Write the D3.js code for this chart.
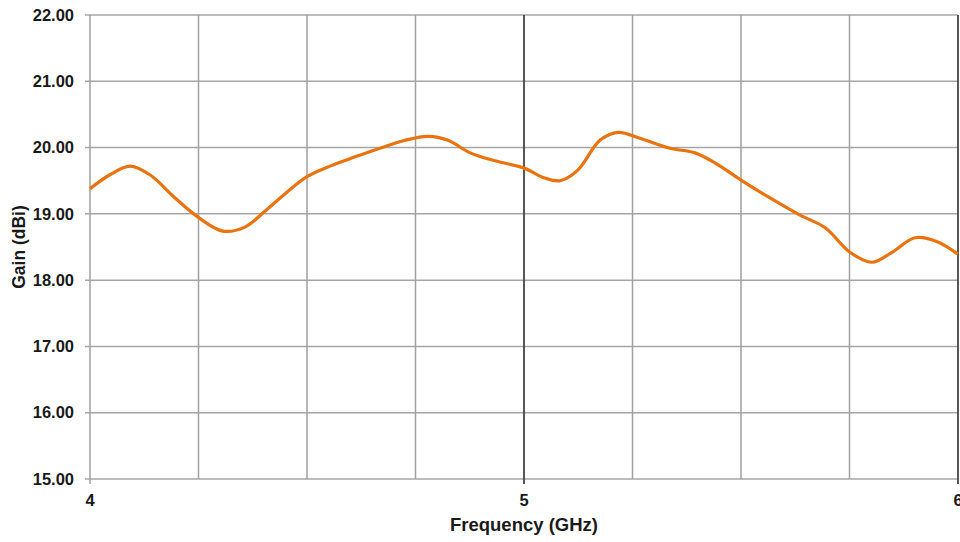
<!DOCTYPE html>
<html><head><meta charset="utf-8">
<script src="https://cdn.jsdelivr.net/npm/d3@7"></script>
<style>body{margin:0;background:#fff}svg{display:block}text{font-family:"Liberation Sans",Arial,sans-serif;font-weight:bold;fill:#1a1a1a}</style>
</head><body><svg id="c" width="960" height="542"></svg>
<script>
const freq = [4.000,4.046,4.092,4.138,4.196,4.249,4.306,4.357,4.403,4.449,4.500,4.553,4.611,4.668,4.726,4.779,4.825,4.876,4.933,5.000,5.048,5.083,5.124,5.175,5.217,5.267,5.336,5.394,5.440,5.500,5.567,5.636,5.694,5.751,5.802,5.848,5.901,5.952,6.000];
const gain = [19.38,19.59,19.72,19.59,19.24,18.95,18.74,18.80,19.04,19.30,19.56,19.72,19.86,19.99,20.11,20.17,20.11,19.92,19.80,19.69,19.54,19.50,19.66,20.11,20.23,20.14,19.99,19.92,19.77,19.51,19.24,18.98,18.79,18.42,18.27,18.42,18.64,18.58,18.39];
const yTicks = [15,16,17,18,19,20,21,22];
const xGrid = [4,4.25,4.5,4.75,5,5.25,5.5,5.75,6];
const xLabels = [4,5,6];

const svg = d3.select("#c");
const m = {l:90, r:2, t:15, b:63};
const W = 960, H = 542;
const x = d3.scaleLinear().domain([4,6]).range([m.l, W-m.r]);
const y = d3.scaleLinear().domain([15,22]).range([H-m.b, m.t]);

const g = svg.append("g");
g.selectAll(".hg").data(yTicks).join("line")
  .attr("x1", m.l-5).attr("x2", W-m.r)
  .attr("y1", d=>y(d)).attr("y2", d=>y(d))
  .attr("stroke", "#a6a6a6").attr("stroke-width", 1.5);
g.selectAll(".vg").data(xGrid).join("line")
  .attr("x1", d=>x(d)).attr("x2", d=>x(d))
  .attr("y1", m.t).attr("y2", d=> (d===4||d===5||d===6) ? y(15)+5 : y(15))
  .attr("stroke", d=> (d===5||d===6) ? "#444" : "#a0a0a0")
  .attr("stroke-width", d=> (d===5||d===6) ? 1.8 : 1.5);

svg.selectAll(".yl").data(yTicks).join("text")
  .attr("x", 74).attr("y", d=>y(d)).attr("dy","0.35em")
  .attr("text-anchor","end").style("font-size","16.5px")
  .text(d=>d.toFixed(2));
svg.selectAll(".xl").data(xLabels).join("text")
  .attr("x", d=>x(d)).attr("y", 500).attr("dy","0.35em")
  .attr("text-anchor","middle").style("font-size","16.5px")
  .text(d=>d);

svg.append("text").attr("x", 524).attr("y", 531)
  .attr("text-anchor","middle").style("font-size","18.5px").text("Frequency (GHz)");
svg.append("text").attr("transform","translate(25,247) rotate(-90)")
  .attr("text-anchor","middle").style("font-size","17.5px").text("Gain (dBi)");

const pts = freq.map((f,i)=>[f,gain[i]]);
svg.append("path").datum(pts)
  .attr("fill","none").attr("stroke","#e8730f").attr("stroke-width",3.2)
  .attr("stroke-linejoin","round")
  .attr("d", d3.line().x(d=>x(d[0])).y(d=>y(d[1])).curve(d3.curveCatmullRom.alpha(0.5)));
</script></body></html>
